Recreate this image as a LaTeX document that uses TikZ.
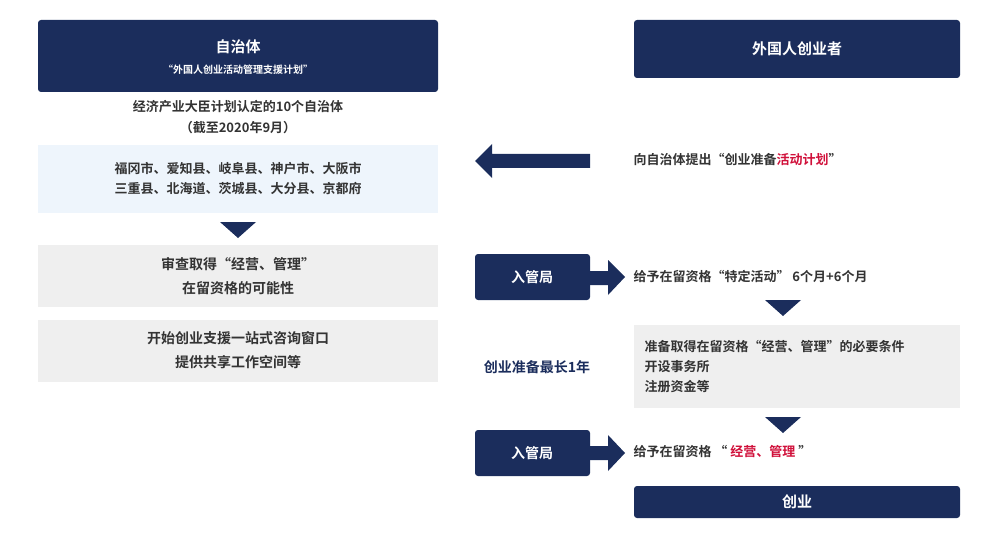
\documentclass[tikz,border=0pt]{standalone}
\usepackage{fontspec}
\setmainfont{Noto Sans CJK SC}[BoldFont={* Bold}]
\definecolor{navy}{HTML}{1B2D5C}
\definecolor{txt}{HTML}{333333}
\definecolor{redt}{HTML}{D0103A}
\definecolor{lblue}{HTML}{EEF5FC}
\definecolor{lgray}{HTML}{EFEFEF}
\begin{document}
\begin{tikzpicture}[x=1pt,y=-1pt,
  navybox/.style={fill=navy,rounded corners=3pt,draw=none},
  wt/.style={text=white,font=\bfseries\fontsize{15}{18}\selectfont},
  bt/.style={text=txt,font=\bfseries\fontsize{13}{16}\selectfont},
  tri/.style={fill=navy,draw=none}]
\useasboundingbox (0,0) rectangle (1000,540);
% left column
\fill[navybox] (38,20) rectangle (438,92);
\node[wt] (zz) at (238,47) {自治体};
\node[text=white,font=\bfseries\fontsize{10}{12}\selectfont] (zzs) at (238,70) {“外国人创业活动管理支援计划”};
\node[bt] (l1) at (238,107) {经济产业大臣计划认定的10个自治体};
\node[bt] (l2) at (238,128) {（截至2020年9月）};
\fill[lblue] (38,145) rectangle (438,213);
\node[bt,align=center] (cities) at (238,179) {福冈市、爱知县、岐阜县、神户市、大阪市\\[4pt]三重县、北海道、茨城县、大分县、京都府};
\fill[tri] (220,222) -- (256,222) -- (238,238) -- cycle;
\fill[lgray] (38,245) rectangle (438,307);
\node[bt,font=\bfseries\fontsize{14}{17}\selectfont,align=center] (sc) at (238,276) {审查取得“经营、管理”\\[7pt]在留资格的可能性};
\fill[lgray] (38,320) rectangle (438,382);
\node[bt,font=\bfseries\fontsize{14}{17}\selectfont,align=center] (st) at (238,350) {开始创业支援一站式咨询窗口\\[7pt]提供共享工作空间等};
% right column
\fill[navybox] (634,20) rectangle (960,78);
\node[wt] (fr) at (797,49) {外国人创业者};
\fill[navy] (475,161) -- (492,144) -- (492,154) -- (590,154) -- (590,168) -- (492,168) -- (492,178) -- cycle;
\node[bt,anchor=west] (t1) at (630,160) {向自治体提出“创业准备\textcolor{redt}{活动计划}”};
% immigration 1
\fill[navybox] (475,254) rectangle (590,300);
\fill[navy] (588,271) -- (608,271) -- (608,260) -- (625,277) -- (608,295) -- (608,285) -- (588,285) -- cycle;
\node[wt,font=\bfseries\fontsize{14}{17}\selectfont] (im1) at (532,277) {入管局};
\node[bt,anchor=west] (t2) at (630,277) {给予在留资格“特定活动” 6个月+6个月};
\fill[tri] (765,300) -- (801,300) -- (783,316) -- cycle;
\fill[lgray] (634,325) rectangle (960,408);
\node[bt,anchor=west,align=left] (req) at (641,367) {准备取得在留资格“经营、管理”的必要条件\\[4pt]开设事务所\\[4pt]注册资金等};
\node[text=navy,font=\bfseries\fontsize{14}{17}\selectfont] (max) at (537,367) {创业准备最长1年};
\fill[tri] (765,417) -- (801,417) -- (783,433) -- cycle;
% immigration 2
\fill[navybox] (475,430) rectangle (590,476);
\fill[navy] (588,446) -- (608,446) -- (608,435) -- (625,453) -- (608,471) -- (608,460) -- (588,460) -- cycle;
\node[wt,font=\bfseries\fontsize{14}{17}\selectfont] (im2) at (532,453) {入管局};
\node[bt,anchor=west] (t3) at (630,452) {给予在留资格 “ \textcolor{redt}{经营、管理} ”};
\fill[navybox] (634,486) rectangle (960,518);
\node[wt] (cy) at (797,502) {创业};
\end{tikzpicture}
\end{document}
